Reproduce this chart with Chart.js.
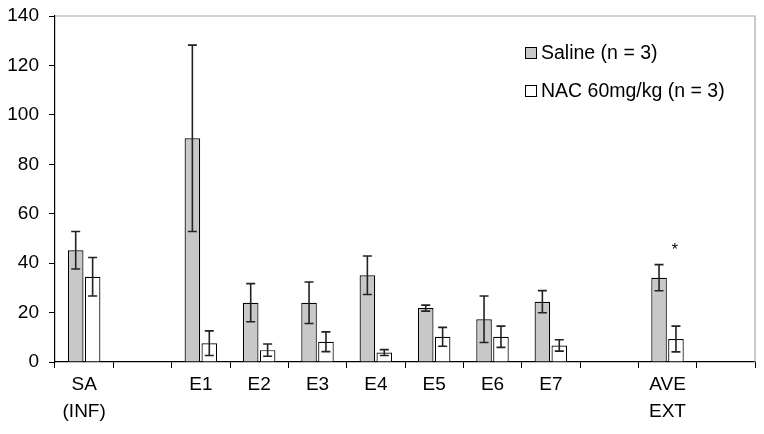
<!DOCTYPE html>
<html>
<head>
<meta charset="utf-8">
<script src="https://cdn.jsdelivr.net/npm/chart.js@4/dist/chart.umd.min.js"></script>
<style>
html,body{margin:0;padding:0;background:#fff;}
#wrap{width:764px;height:434px;}
</style>
</head>
<body>
<div id="wrap"><canvas id="c" width="764" height="434"></canvas></div>
<script>
const categories = [['SA','(INF)'], '', 'E1', 'E2', 'E3', 'E4', 'E5', 'E6', 'E7', '', ['AVE','EXT'], ''];
const seriesNames = ['Saline (n = 3)', 'NAC 60mg/kg (n = 3)'];
const saline    = [45.2, null, 90.5, 24.0, 24.0, 35.1, 21.8, 17.3, 24.4, null, 34.1, null];
const salineErr = [7.6,  null, 37.7, 7.7,  8.4,  7.8,  1.2,  9.4,  4.5,  null, 5.3,  null];
const nac       = [34.5, null, 7.6,  4.8,  8.2,  3.8,  10.2, 10.2, 6.7,  null, 9.3,  null];
const nacErr    = [7.8,  null, 5.0,  2.5,  4.0,  1.2,  3.8,  4.3,  2.3,  null, 5.2,  null];
const significance = [{index: 10, dataset: 1, value: 46, mark: '*'}];
const yTicks = [0, 20, 40, 60, 80, 100, 120, 140];

const FONT = 'Liberation Sans, Arial, sans-serif';
const colors = ['#c8c8c8', '#ffffff'];

const errorPlugin = {
  id: 'errs',
  afterDatasetsDraw(chart) {
    const ctx = chart.ctx, ys = chart.scales.y;
    [[0, salineErr], [1, nacErr]].forEach(([di, errs]) => {
      const meta = chart.getDatasetMeta(di);
      const vals = chart.data.datasets[di].data;
      meta.data.forEach((bar, i) => {
        const v = vals[i], e = errs[i];
        if (v == null || e == null) return;
        const x = bar.x;
        const yt = ys.getPixelForValue(v + e), yb = ys.getPixelForValue(Math.max(0, v - e));
        ctx.save();
        ctx.strokeStyle = '#222';
        ctx.lineWidth = 1.6;
        ctx.beginPath();
        ctx.moveTo(x, yt); ctx.lineTo(x, yb);
        ctx.moveTo(x - 4.5, yt); ctx.lineTo(x + 4.5, yt);
        ctx.moveTo(x - 4.5, yb); ctx.lineTo(x + 4.5, yb);
        ctx.stroke();
        ctx.restore();
      });
    });
    significance.forEach(s => {
      const bar = chart.getDatasetMeta(s.dataset).data[s.index];
      ctx.save();
      ctx.fillStyle = '#000';
      ctx.font = '16px ' + FONT;
      ctx.textAlign = 'center';
      ctx.textBaseline = 'middle';
      ctx.fillText(s.mark, bar.x - 1, ys.getPixelForValue(s.value) + 2);
      ctx.restore();
    });
  }
};

const framePlugin = {
  id: 'frame',
  beforeDatasetsDraw(chart) {
    const {ctx, chartArea: a} = chart;
    ctx.save();
    ctx.strokeStyle = '#a6a6a6';
    ctx.lineWidth = 1.2;
    ctx.beginPath();
    ctx.moveTo(a.left, a.top); ctx.lineTo(a.right, a.top); ctx.lineTo(a.right, a.bottom);
    ctx.stroke();
    ctx.restore();
  }
};

const legendPlugin = {
  id: 'legendBox',
  afterDraw(chart) {
    const ctx = chart.ctx;
    const x0 = 525, ys = [53, 91];
    ctx.save();
    ctx.font = '19.5px ' + FONT;
    ctx.textBaseline = 'middle';
    ctx.textAlign = 'left';
    seriesNames.forEach((n, i) => {
      ctx.fillStyle = colors[i];
      ctx.fillRect(x0, ys[i] - 6, 12, 12);
      ctx.strokeStyle = '#000';
      ctx.lineWidth = 1;
      ctx.strokeRect(x0 + 0.5, ys[i] - 5.5, 11, 11);
      ctx.fillStyle = '#000';
      ctx.fillText(n, x0 + 16, ys[i] + 1);
    });
    ctx.restore();
  }
};

new Chart(document.getElementById('c'), {
  type: 'bar',
  data: {
    labels: categories,
    datasets: [
      {label: seriesNames[0], data: saline, backgroundColor: colors[0], borderColor: '#000', borderWidth: 1.2,
       categoryPercentage: 0.58, barPercentage: 0.92},
      {label: seriesNames[1], data: nac, backgroundColor: colors[1], borderColor: '#000', borderWidth: 1.2,
       categoryPercentage: 0.58, barPercentage: 0.92}
    ]
  },
  options: {
    responsive: false,
    animation: false,
    devicePixelRatio: 1,
    layout: {padding: {top: 16, right: 9, left: 0, bottom: 0}},
    plugins: {legend: {display: false}, tooltip: {enabled: false}},
    scales: {
      x: {
        offset: true,
        grid: {offset: true, drawOnChartArea: false, drawTicks: true, tickLength: 6, color: '#000', tickColor: '#000'},
        border: {color: '#000', width: 1.2},
        ticks: {color: '#000', font: {size: 19, family: FONT, lineHeight: 1.42}, padding: 3, autoSkip: false, maxRotation: 0, minRotation: 0},
        afterFit(s) { s.height = 72; s.paddingLeft = 0; s.paddingRight = 0; }
      },
      y: {
        min: 0, max: 140,
        afterBuildTicks(s) { s.ticks = yTicks.map(v => ({value: v})); },
        grid: {drawOnChartArea: false, drawTicks: true, tickLength: 6, color: '#000', tickColor: '#000'},
        border: {color: '#000', width: 1.2},
        ticks: {color: '#000', font: {size: 19, family: FONT}, padding: 10},
        afterFit(s) { s.width = 55; s.paddingTop = 0; s.paddingBottom = 0; }
      }
    }
  },
  plugins: [framePlugin, errorPlugin, legendPlugin]
});
</script>
</body>
</html>
